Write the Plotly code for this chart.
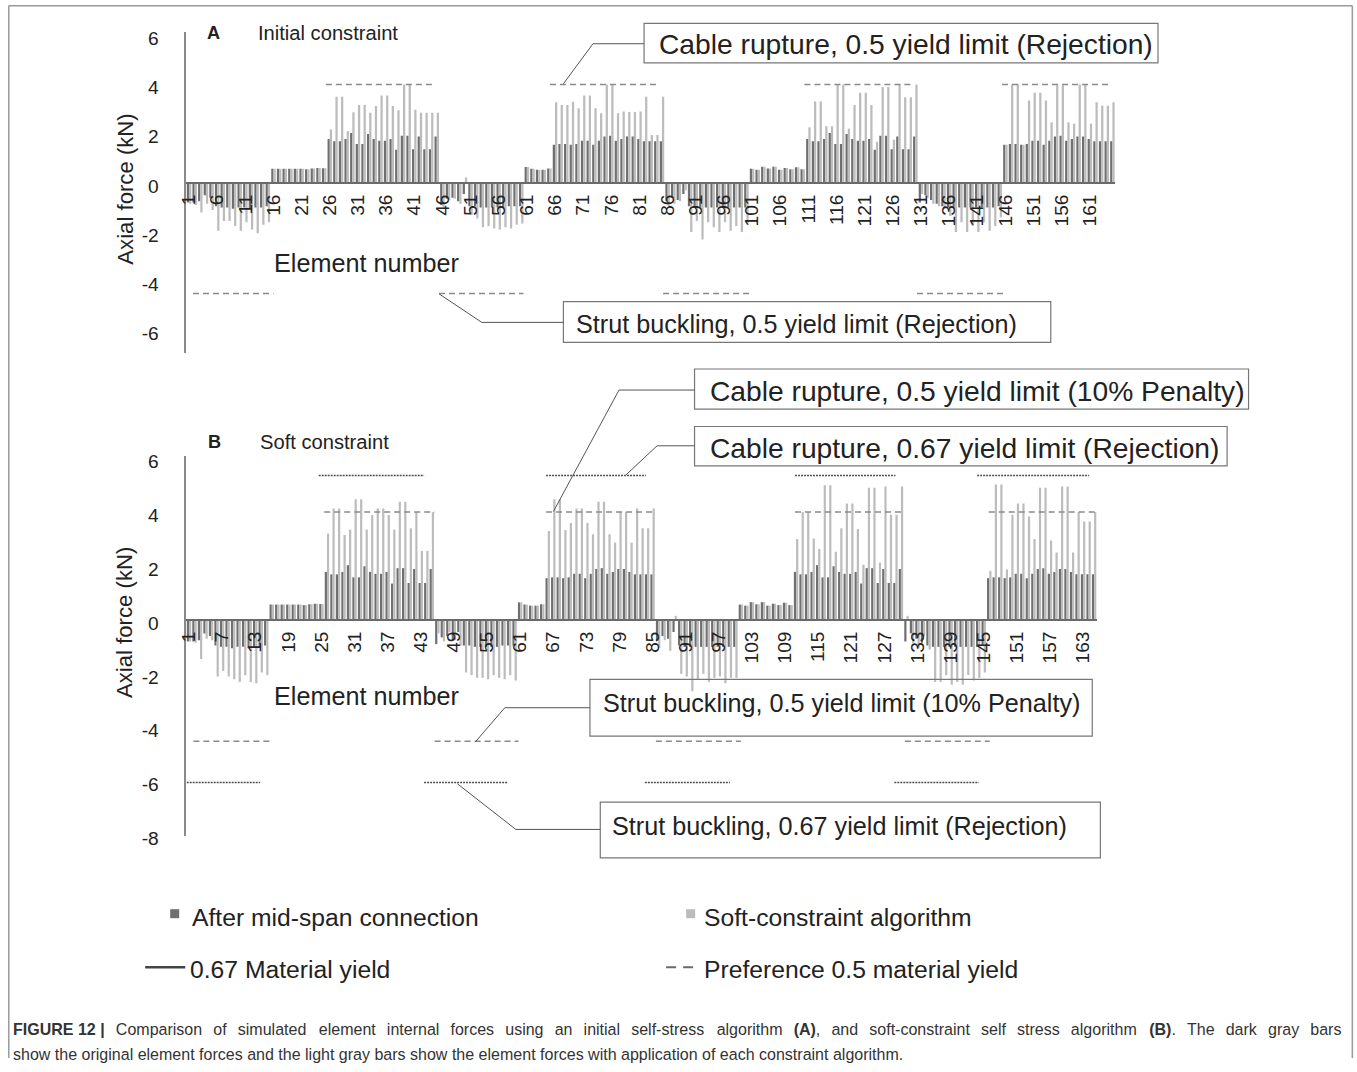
import plotly.graph_objects as go

W, H = 1357, 1072
# measured mapping between page pixels and the photographed picture
SX, OX = 0.9923, 10.1
SY, OY = 0.9814, 4.6
FS = 1 / SX  # font-size compensation

FONT = "Liberation Sans, Arial, sans-serif"
TXT = "#222222"
DARK = "#6f6f6f"
LIGHT = "#bcbcbc"

# ---------------- data ----------------
elements = list(range(1, 166))

after_midspan = [
    -0.8, -0.8, -0.75, -0.5, -0.6, -0.95, -1.0, -1.0, -1.05, -1.0, -1.0, -1.05, -1.0, -1.0, -0.95,
    0.57, 0.57, 0.57, 0.57, 0.57, 0.57, 0.55, 0.58, 0.6, 0.59,
    1.78, 1.69, 1.69, 1.78, 2.03, 1.58, 1.58, 1.99, 1.78, 1.71, 1.71, 1.78, 1.35, 1.92, 1.92, 1.37, 1.89, 1.37, 1.37, 1.89,
    -0.9, -0.65, -0.6, -0.75, -0.45, -0.95, -0.95, -1.0, -1.0, -1.0, -1.0, -1.0, -0.95, -0.95, -0.95,
    0.65, 0.57, 0.53, 0.53, 0.58,
    1.55, 1.58, 1.58, 1.55, 1.58, 1.71, 1.71, 1.55, 1.71, 1.89, 1.92, 1.71, 1.78, 1.89, 1.89, 1.78, 1.69, 1.69, 1.69, 1.69,
    -0.75, -0.6, -0.7, -0.45, -0.95, -1.0, -1.0, -1.0, -1.0, -1.0, -1.0, -1.0, -1.0, -1.0, -1.0,
    0.57, 0.53, 0.66, 0.58, 0.66, 0.53, 0.6, 0.55, 0.64, 0.55,
    1.78, 1.69, 1.69, 1.78, 2.03, 1.58, 1.58, 1.99, 1.78, 1.71, 1.71, 1.78, 1.35, 1.92, 1.92, 1.37, 1.89, 1.37, 1.37, 1.89,
    -0.8, -0.5, -0.7, -0.85, -0.95, -1.0, -1.0, -1.0, -1.0, -1.0, -1.0, -1.0, -1.0, -1.0, -0.95,
    1.55, 1.58, 1.58, 1.55, 1.58, 1.71, 1.71, 1.55, 1.71, 1.89, 1.92, 1.71, 1.78, 1.89, 1.89, 1.78, 1.69, 1.69, 1.69, 1.69,
]

initial_algorithm = [
    -0.85, -0.9, -1.2, -0.85, -1.1, -1.95, -1.55, -1.55, -1.75, -1.95, -1.6, -1.9, -2.05, -1.7, -1.6,
    0.57, 0.57, 0.57, 0.57, 0.57, 0.57, 0.55, 0.58, 0.6, 0.59,
    2.17, 3.5, 3.5, 2.1, 2.87, 3.17, 3.17, 2.85, 3.12, 3.55, 3.55, 3.12, 2.95, 4.0, 4.0, 2.97, 2.85, 2.85, 2.85, 2.85,
    -1.0, -0.7, -0.65, -0.85, 0.22, -1.3, -1.45, -1.8, -1.75, -1.85, -1.9, -1.8, -1.85, -1.7, -1.65,
    0.65, 0.57, 0.53, 0.53, 0.58,
    3.28, 3.17, 3.17, 3.3, 3.03, 3.55, 3.55, 3.03, 2.83, 4.0, 4.0, 2.83, 2.9, 2.88, 2.88, 2.9, 3.5, 1.95, 1.95, 3.5,
    -0.95, -0.85, -0.75, -0.3, -2.0, -1.55, -2.3, -1.6, -1.8, -2.0, -1.6, -1.95, -1.75, -2.0, -1.65,
    0.57, 0.53, 0.66, 0.58, 0.66, 0.53, 0.6, 0.55, 0.64, 0.55,
    2.26, 3.31, 3.31, 2.3, 2.3, 4.0, 4.0, 2.2, 3.17, 3.66, 3.66, 3.17, 1.67, 3.9, 3.9, 1.75, 4.0, 3.48, 3.48, 4.0,
    -0.45, -0.6, -0.85, -0.95, -1.05, -1.35, -2.0, -1.6, -2.0, -1.75, -2.0, -1.6, -1.95, -1.75, -1.4,
    1.55, 4.0, 4.0, 1.55, 3.35, 3.66, 3.66, 3.35, 2.46, 3.97, 3.97, 2.46, 2.4, 4.0, 4.0, 2.4, 3.28, 3.14, 3.14, 3.28,
]

soft_algorithm = [
    -0.8, -0.85, -1.45, -0.7, -0.75, -2.1, -1.9, -2.1, -2.2, -2.3, -2.05, -2.3, -2.35, -1.95, -2.05,
    0.57, 0.57, 0.57, 0.57, 0.57, 0.57, 0.55, 0.58, 0.6, 0.59,
    3.2, 4.13, 4.13, 3.15, 3.35, 4.48, 4.48, 3.35, 3.89, 4.13, 4.13, 3.89, 3.35, 4.38, 4.38, 3.4, 4.0, 2.56, 2.56, 4.0,
    -0.5, -0.8, -0.45, -0.75, -0.95, -1.95, -2.05, -2.15, -2.15, -2.2, -2.05, -2.15, -2.2, -2.05, -2.25,
    0.65, 0.57, 0.53, 0.53, 0.58,
    3.3, 4.48, 4.48, 3.33, 3.6, 4.13, 4.13, 3.6, 3.18, 4.38, 4.38, 3.18, 2.87, 4.0, 4.0, 2.87, 4.13, 3.4, 3.4, 4.13,
    -1.05, -0.75, -1.15, 0.15, -2.0, -2.1, -2.65, -2.2, -2.0, -2.3, -2.15, -2.1, -2.35, -2.15, -2.15,
    0.57, 0.53, 0.66, 0.58, 0.66, 0.53, 0.6, 0.55, 0.64, 0.55,
    3.0, 4.0, 4.0, 3.02, 2.63, 5.0, 5.0, 2.53, 3.4, 4.32, 4.32, 3.37, 2.05, 4.9, 4.9, 2.13, 4.95, 3.9, 3.9, 4.95,
    0.15, -0.85, -1.05, -0.6, -1.1, -2.3, -2.3, -2.05, -2.4, -2.3, -2.4, -2.05, -2.25, -2.15, -1.95,
    1.82, 5.02, 5.02, 1.87, 3.9, 4.32, 4.32, 3.84, 3.0, 4.9, 4.9, 2.95, 2.5, 4.95, 4.95, 2.5, 4.0, 3.65, 3.65, 4.0,
]

# limit levels (kN)
cable_05 = 4.0
strut_05 = -4.5
cable_067 = 5.36
strut_067 = -6.03

# element spans covered by each limit line
a_cable_05_spans = [(25.3, 44.7), (65.1, 84.5), (110.3, 129.8), (145.4, 164.8)]
a_strut_05_spans = [(1.7, 16.0), (45.4, 60.4), (85.2, 100.8), (130.3, 145.8)]
b_cable_05_spans = [(25.5, 45.5), (65.7, 85.5), (110.8, 130.2), (145.9, 165.5)]
b_cable_067_spans = [(24.5, 43.6), (65.7, 83.8), (110.8, 129.0), (143.8, 164.1)]
b_strut_05_spans = [(1.8, 15.7), (45.5, 60.7), (85.6, 101.0), (130.7, 146.1)]
b_strut_067_spans = [(-0.5, 13.9), (43.6, 58.7), (83.6, 99.0), (128.8, 144.1)]

a_xticks = list(range(1, 162, 5))
b_xticks = list(range(1, 164, 6))
a_yticks = [-6, -4, -2, 0, 2, 4, 6]
a_yticktext = ["-6", "-4", "-2", "0", "2", "4", "6"]
b_yticks = [-8, -6, -4, -2, 0, 2, 4, 6]
b_yticktext = ["-8", "-6", "-4", "-2", "0", "2", "4", "6"]

a_yrange = [-6.9, 6.12]
b_yrange = [-8.0, 6.1]
xrange_ = [0.5, 165.5]


# ---------------- helpers (target picture pixel -> paper) ----------------
def wx(x):
    return (x - OX) / SX


def wy(y):
    return (y - OY) / SY


def px(x):
    return wx(x) / W


def py(y):
    return 1 - wy(y) / H


def seg_xy(spans, level):
    xs, ys = [], []
    for s, e in spans:
        xs += [s, e, None]
        ys += [level, level, None]
    return xs, ys


# plot-area geometry (target picture pixels)
A_L, A_R, A_T, A_B = 188, 1115.3, 31.9, 351.9
B_L, B_R, B_T, B_B = 188, 1097.0, 454.7, 834.4

a_xdom = [px(A_L), px(A_R)]
a_ydom = [py(A_B), py(A_T)]
b_xdom = [px(B_L), px(B_R)]
b_ydom = [py(B_B), py(B_T)]


def zero_pos(dom, rng):
    return dom[0] + (0 - rng[0]) / (rng[1] - rng[0]) * (dom[1] - dom[0])


fig = go.Figure()

fig.add_trace(go.Bar(x=elements, y=after_midspan, name="After mid-span connection",
                     marker=dict(color=DARK, line=dict(width=0)), xaxis="x", yaxis="y"))
fig.add_trace(go.Bar(x=elements, y=initial_algorithm, name="Initial constraint algorithm",
                     marker=dict(color=LIGHT, line=dict(width=0)), xaxis="x", yaxis="y"))
fig.add_trace(go.Bar(x=elements, y=after_midspan, name="After mid-span connection",
                     marker=dict(color=DARK, line=dict(width=0)), xaxis="x2", yaxis="y2"))
fig.add_trace(go.Bar(x=elements, y=soft_algorithm, name="Soft-constraint algorithm",
                     marker=dict(color=LIGHT, line=dict(width=0)), xaxis="x2", yaxis="y2"))

DASH05 = dict(color="#8a8a8a", width=1.5, dash="6px,4px")
DOT067 = dict(color="#505050", width=1.5, dash="2px,1px")

for spans, lvl in [(a_cable_05_spans, cable_05), (a_strut_05_spans, strut_05)]:
    xs, ys = seg_xy(spans, lvl)
    fig.add_trace(go.Scatter(x=xs, y=ys, mode="lines", line=DASH05, xaxis="x", yaxis="y",
                             name="Preference 0.5 material yield", hoverinfo="skip"))
for spans, lvl in [(b_cable_05_spans, cable_05), (b_strut_05_spans, strut_05)]:
    xs, ys = seg_xy(spans, lvl)
    fig.add_trace(go.Scatter(x=xs, y=ys, mode="lines", line=DASH05, xaxis="x2", yaxis="y2",
                             name="Preference 0.5 material yield", hoverinfo="skip"))
for spans, lvl in [(b_cable_067_spans, cable_067), (b_strut_067_spans, strut_067)]:
    xs, ys = seg_xy(spans, lvl)
    fig.add_trace(go.Scatter(x=xs, y=ys, mode="lines", line=DOT067, xaxis="x2", yaxis="y2",
                             name="0.67 Material yield", hoverinfo="skip"))

xaxis_common = dict(range=xrange_, showgrid=False, zeroline=False, showline=True,
                    linecolor="#6a6a6a", linewidth=2, ticks="", tickangle=-90,
                    tickfont=dict(family=FONT, size=19 * FS, color=TXT), ticklabelstandoff=3,
                    tickmode="array", fixedrange=True)
yaxis_common = dict(showgrid=False, zeroline=False, showline=True, linecolor="#8a8a8a",
                    linewidth=1.5, ticks="", tickfont=dict(family=FONT, size=19 * FS, color=TXT),
                    ticklabelstandoff=22, ticklabelshift=3, tickmode="array", fixedrange=True)

fig.update_layout(
    width=W, height=H, autosize=False,
    margin=dict(l=0, r=0, t=0, b=0),
    paper_bgcolor="white", plot_bgcolor="rgba(0,0,0,0)",
    showlegend=False,
    barmode="group", bargap=0.2, bargroupgap=0.0,
    font=dict(family=FONT, color=TXT),
    xaxis=dict(xaxis_common, domain=a_xdom, anchor="free",
               position=zero_pos(a_ydom, a_yrange), tickvals=a_xticks,
               ticktext=[str(v) for v in a_xticks]),
    yaxis=dict(yaxis_common, domain=a_ydom, range=a_yrange, anchor="x",
               tickvals=a_yticks, ticktext=a_yticktext),
    xaxis2=dict(xaxis_common, domain=b_xdom, anchor="free",
                position=zero_pos(b_ydom, b_yrange), tickvals=b_xticks,
                ticktext=[str(v) for v in b_xticks]),
    yaxis2=dict(yaxis_common, domain=b_ydom, range=b_yrange, anchor="x2",
                tickvals=b_yticks, ticktext=b_yticktext),
)

ann = []


def text(x, y, s, size, anchor="left", color=TXT, angle=0):
    ann.append(dict(x=px(x), y=py(y), xref="paper", yref="paper", text=s, showarrow=False,
                    xanchor=anchor, yanchor="middle", textangle=angle,
                    font=dict(family=FONT, size=size * FS, color=color)))


# panel titles
text(215, 33, "<b>A</b>", 18, "center")
text(258, 33, "Initial constraint", 20)
text(216, 441, "<b>B</b>", 18, "center")
text(260, 441, "Soft constraint", 20)
# axis titles
text(127, 189, "Axial force (kN)", 22, "center", angle=-90)
text(127, 622, "Axial force (kN)", 22, "center", angle=-90)
text(368, 262, "Element number", 25, "center")
text(368, 695, "Element number", 25, "center")
# call-out texts
text(658, 43.5, "Cable rupture, 0.5 yield limit (Rejection)", 28)
text(575, 323.5, "Strut buckling, 0.5 yield limit (Rejection)", 25)
text(709, 390, "Cable rupture, 0.5 yield limit (10% Penalty)", 28)
text(709, 447, "Cable rupture, 0.67 yield limit (Rejection)", 28)
text(602, 702, "Strut buckling, 0.5 yield limit (10% Penalty)", 25)
text(611, 824.5, "Strut buckling, 0.67 yield limit (Rejection)", 25)
# legend texts
text(192, 916, "After mid-span connection", 24.5)
text(703, 916, "Soft-constraint algorithm", 24.5)
text(190, 968, "0.67 Material yield", 24.5)
text(703, 968, "Preference 0.5 material yield", 24.5)
# caption (first line justified with wider word gaps)
GAP_N = " \u2005\u2006"
GAP_W = " \u2005\u2005"
line1_words = ["Comparison", "of", "simulated", "element", "internal",
               "forces", "using", "an", "initial", "self-stress", "algorithm", "<b>(A)</b>,", "and",
               "soft-constraint", "self", "stress", "algorithm", "<b>(B)</b>.", "The", "dark", "gray", "bars"]
cap1 = "<b>FIGURE 12 |</b>" + GAP_N
for i, wd in enumerate(line1_words):
    cap1 += (GAP_W if (i % 7 == 3) else GAP_N) + wd if i > 0 else wd
text(13, 1028, cap1, 15.9, color="#333333")
text(13, 1053, "show the original element forces and the light gray bars show the element forces "
               "with application of each constraint algorithm.", 15.9, color="#333333")

shapes = []


def line(x0, y0, x1, y1, color="#555555", width=1, dash=None):
    d = dict(type="line", xref="paper", yref="paper", x0=px(x0), y0=py(y0), x1=px(x1), y1=py(y1),
             line=dict(color=color, width=width))
    if dash:
        d["line"]["dash"] = dash
    shapes.append(d)


def rect(x0, y0, x1, y1, color="#777777", width=1.2, fill="rgba(0,0,0,0)"):
    shapes.append(dict(type="rect", xref="paper", yref="paper", x0=px(x0), y0=py(y0),
                       x1=px(x1), y1=py(y1), line=dict(color=color, width=width), fillcolor=fill))


# outer frame: top, left and right edges (bottom edge lies below the picture)
fx0 = max(wx(5), 0.8) / W
fx1 = min(wx(1352), W - 0.8) / W
fy_top = 1 - max(wy(5), 0.8) / H
FRAME = dict(color="#9a9a9a", width=1.5)
shapes.append(dict(type="line", xref="paper", yref="paper", x0=fx0, x1=fx1, y0=fy_top, y1=fy_top, line=FRAME))
shapes.append(dict(type="line", xref="paper", yref="paper", x0=fx0, x1=fx0, y0=fy_top, y1=0, line=FRAME))
shapes.append(dict(type="line", xref="paper", yref="paper", x0=fx1, x1=fx1, y0=fy_top, y1=0, line=FRAME))
# call-out boxes and leaders
rect(645, 23, 1158, 62.5)
line(645, 43.3, 594, 43.3)
line(594, 43.3, 564.5, 83.3)
rect(564.5, 301, 1051, 341.7)
line(564.5, 321.7, 483, 321.7)
line(483, 321.7, 440.5, 293.3)
rect(695.4, 368.3, 1248.4, 408.3)
line(695.4, 389.3, 620, 389.3)
line(620, 389.3, 554.5, 510.7)
rect(695.4, 425.7, 1227, 465)
line(695.4, 445, 658, 445)
line(658, 445, 626, 475)
rect(591, 678.3, 1092.4, 735)
line(591, 706.7, 506, 706.7)
line(506, 706.7, 476.5, 741)
rect(601.3, 801, 1100.5, 856.7)
line(601.3, 828.3, 517, 828.3)
line(517, 828.3, 458.7, 782.7)
# legend keys
rect(172, 908, 181, 917, color=DARK, width=0, fill=DARK)
rect(687, 908, 696, 917, color=LIGHT, width=0, fill=LIGHT)
line(147, 966, 187, 966, color="#444444", width=2.5)
line(667, 966, 699, 966, color="#6a6a6a", width=2, dash="10px,7px")

fig.update_layout(annotations=ann, shapes=shapes)

fig.write_html("out.html", config={"displayModeBar": False},
               post_script="document.body.style.margin='0';document.body.style.overflow='hidden';")
